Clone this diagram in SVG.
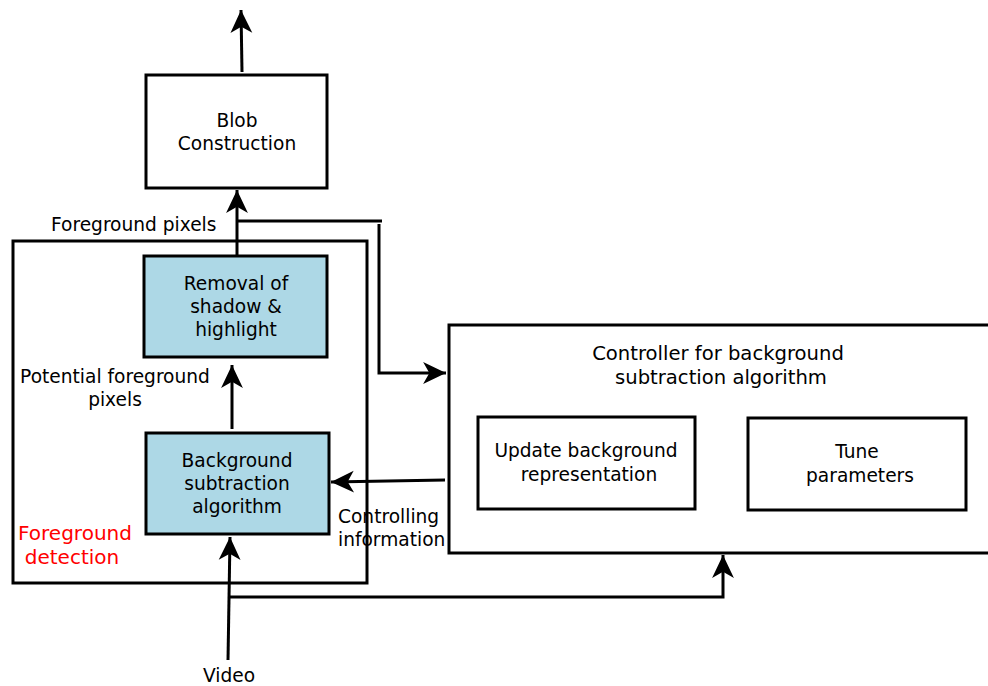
<svg xmlns="http://www.w3.org/2000/svg" width="988" height="686" viewBox="0 0 988 686">
<defs>
<marker id="ah" markerUnits="userSpaceOnUse" markerWidth="26" markerHeight="26" viewBox="-23 -12 25 24" refX="0" refY="0" orient="auto">
<path d="M0,0 L-22,-10.5 L-16,0 L-22,10.5 Z" fill="#000"/>
</marker>
<style>
.box{fill:#fff;stroke:#000;stroke-width:3}
.blue{fill:#add8e6;stroke:#000;stroke-width:3}
.ln{fill:none;stroke:#000;stroke-width:3}
.t{font-family:"DejaVu Sans","Liberation Sans",sans-serif;font-size:18.6px;fill:#000;text-anchor:middle}
.s{text-anchor:start}
.red{fill:#ff0000;font-size:20px}
</style>
</defs>
<rect width="988" height="686" fill="#fff"/>
<g id="fg-detection">
<rect class="box" x="13" y="241" width="354" height="342" fill="none"/>
<text class="t red" x="75" y="540">Foreground</text>
<text class="t red" x="72" y="564">detection</text>
</g>
<g id="blob">
<rect class="box" x="146" y="75" width="181" height="113"/>
<text class="t" x="237" y="127">Blob</text>
<text class="t" x="237" y="150">Construction</text>
</g>
<g id="removal">
<rect class="blue" x="144" y="256" width="183" height="101"/>
<text class="t" x="236" y="290">Removal of</text>
<text class="t" x="236" y="313">shadow &amp;</text>
<text class="t" x="236" y="336">highlight</text>
</g>
<g id="bgsub">
<rect class="blue" x="146" y="433" width="183" height="101"/>
<text class="t" x="237" y="467">Background</text>
<text class="t" x="237" y="490">subtraction</text>
<text class="t" x="237" y="513">algorithm</text>
</g>
<g id="controller">
<rect class="box" x="449" y="325" width="545" height="228"/>
<text class="t" x="718" y="360" style="font-size:19.6px">Controller for background</text>
<text class="t" x="721" y="384" style="font-size:19.6px">subtraction algorithm</text>
</g>
<g id="update">
<rect class="box" x="478" y="417" width="217" height="92"/>
<text class="t" x="586" y="457">Update background</text>
<text class="t" x="589" y="481">representation</text>
</g>
<g id="tune">
<rect class="box" x="748" y="418" width="218" height="92"/>
<text class="t" x="857" y="458">Tune</text>
<text class="t" x="860" y="482">parameters</text>
</g>
<g id="connectors">
<line class="ln" x1="242" y1="72" x2="241" y2="10" marker-end="url(#ah)"/>
<line class="ln" x1="237" y1="255" x2="237" y2="190" marker-end="url(#ah)"/>
<polyline class="ln" points="237,221 382,221"/>
<polyline class="ln" points="379,224 379,373 446,373" marker-end="url(#ah)"/>
<line class="ln" x1="232" y1="429" x2="232" y2="365" marker-end="url(#ah)"/>
<line class="ln" x1="445" y1="480" x2="331" y2="482" marker-end="url(#ah)"/>
<line class="ln" x1="228" y1="660" x2="230" y2="537" marker-end="url(#ah)"/>
<polyline class="ln" points="229,597 723,597 723,555" marker-end="url(#ah)"/>
</g>
<g id="labels">
<text class="t s" x="51" y="231">Foreground pixels</text>
<text class="t" x="115" y="383">Potential foreground</text>
<text class="t" x="115" y="406">pixels</text>
<text class="t s" x="338" y="523">Controlling</text>
<text class="t s" x="338" y="546">information</text>
<text class="t" x="229" y="682">Video</text>
</g>
</svg>
